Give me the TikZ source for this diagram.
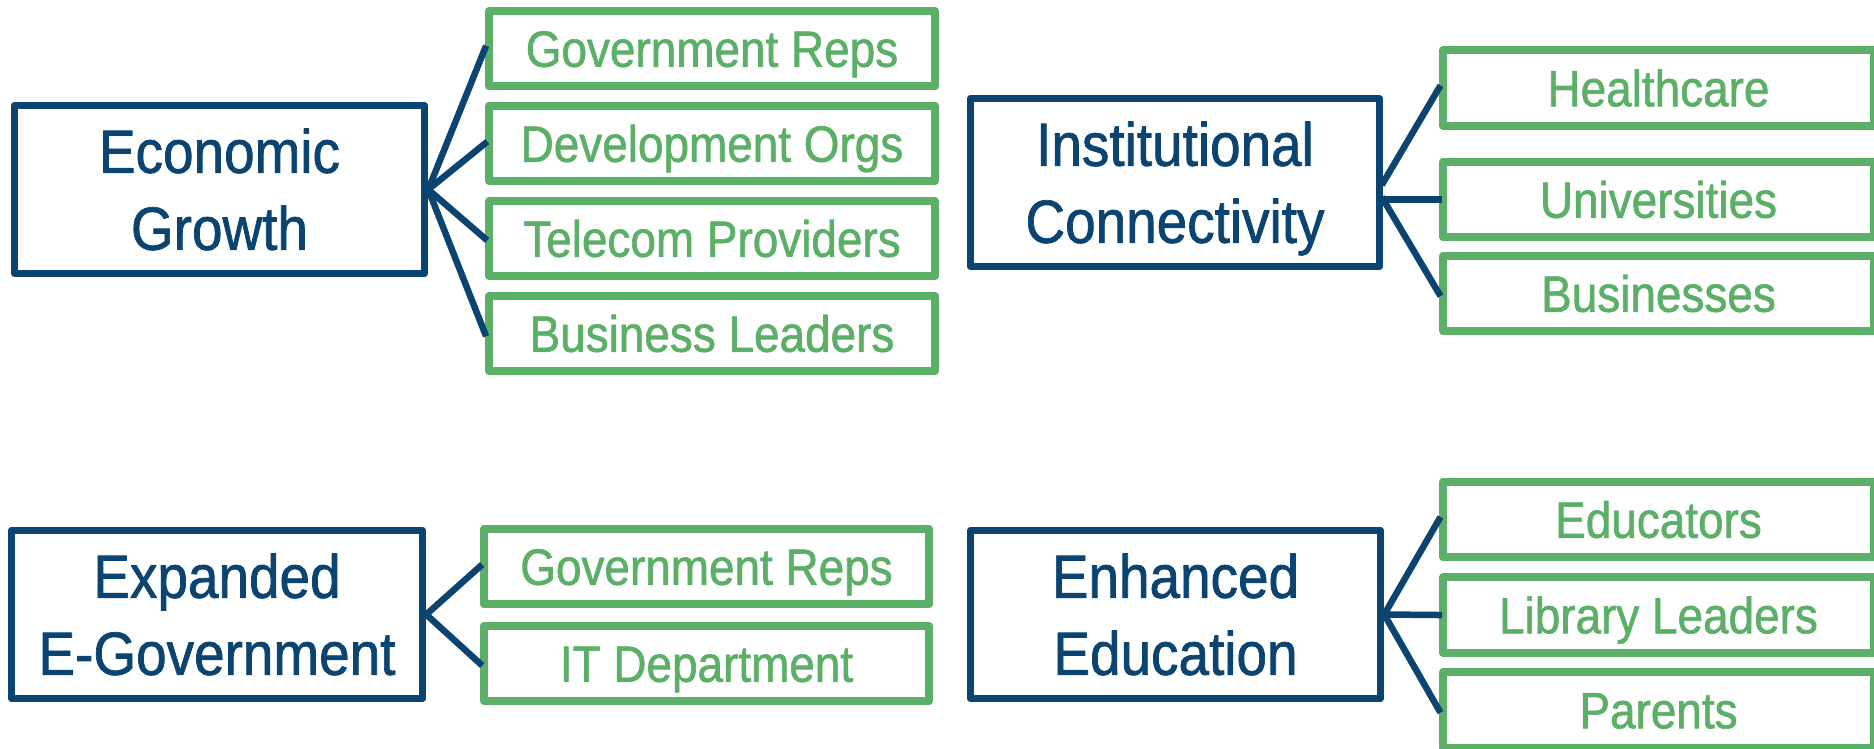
\documentclass[tikz,border=0pt]{standalone}
\usepackage{fontspec}
\setmainfont{Liberation Sans}[FakeStretch=0.9,FakeBold=1.2]
\definecolor{navy}{HTML}{0B4470}
\definecolor{leaf}{HTML}{5BAF67}
\begin{document}
\begin{tikzpicture}[x=1pt,y=-1pt,
  hubbox/.style={draw=navy,line width=7.5pt,line join=round,minimum width=410pt,
    minimum height=168pt,inner sep=0pt,align=center,text=navy,
    font=\fontsize{61}{77}\selectfont},
  leafbox/.style={draw=leaf,line width=8pt,line join=round,minimum height=75.5pt,
    inner sep=0pt,text=leaf,font=\fontsize{51}{60}\selectfont,
    text height=36.5pt,text depth=0pt},
  link/.style={draw=navy,line width=6.5pt,shorten <=-3pt,shorten >=-3pt}]
\useasboundingbox (0,0) rectangle (1874,748);
\clip (0,0) rectangle (1874,748);

% Economic Growth
\node[hubbox] (eg) at (219.5,189.5) {Economic\\Growth};
\node[leafbox,minimum width=446pt] (eg1) at (712,48.5) {Government Reps};
\node[leafbox,minimum width=446pt] (eg2) at (712,143.5) {Development Orgs};
\node[leafbox,minimum width=446pt] (eg3) at (712,238.5) {Telecom Providers};
\node[leafbox,minimum width=446pt] (eg4) at (712,333.5) {Business Leaders};

% Institutional Connectivity
\node[hubbox,minimum width=409pt] (ic) at (1175,182.5) {Institutional\\Connectivit\smash{y}};
\node[leafbox,minimum width=431pt] (ic1) at (1658.5,88) {Healthcare};
\node[leafbox,minimum width=431pt] (ic2) at (1658.5,199.5) {Universities};
\node[leafbox,minimum width=431pt] (ic3) at (1658.5,293.5) {Businesses};

% Expanded E-Government
\node[hubbox,minimum width=411pt] (eq) at (217,614.5) {Expanded\\E-Government};
\node[leafbox,minimum width=445pt] (eq1) at (706.5,566.5) {Government Reps};
\node[leafbox,minimum width=445pt] (eq2) at (706.5,663.5) {IT Department};

% Enhanced Education
\node[hubbox] (ee) at (1175.5,614.5) {Enhanced\\Education};
\node[leafbox,minimum width=431pt] (ee1) at (1658.5,519.5) {Educators};
\node[leafbox,minimum width=431pt] (ee2) at (1658.5,615) {Library Leaders};
\node[leafbox,minimum width=431pt] (ee3) at (1658.5,710) {Parents};

% connectors
\draw[link] (eg.east) -- (eg1.west);
\draw[link] (eg.east) -- (eg2.west);
\draw[link] (eg.east) -- (eg3.west);
\draw[link] (eg.east) -- (eg4.west);

\draw[link] (ic.east) -- (ic1.west);
\draw[link] (ic.east |- ic2.west) -- (ic2.west);
\draw[link] (ic.east |- ic2.west) -- (ic3.west);

\draw[link] (eq.east) -- (eq1.west);
\draw[link] (eq.east) -- (eq2.west);

\draw[link] (ee.east) -- (ee1.west);
\draw[link] (ee.east) -- (ee2.west);
\draw[link] (ee.east) -- (ee3.west);
\end{tikzpicture}
\end{document}
